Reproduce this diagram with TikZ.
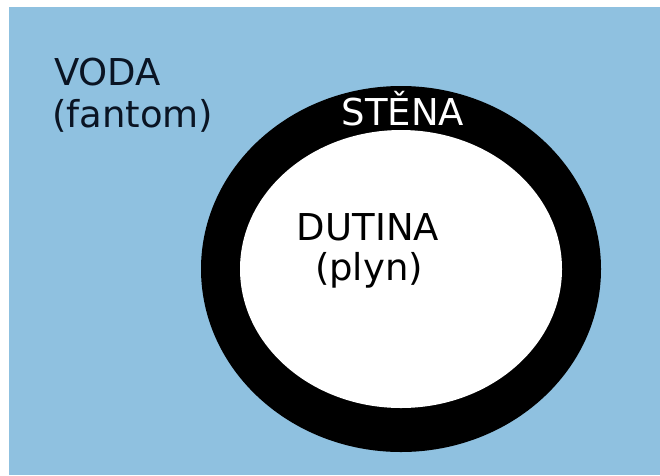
\documentclass[tikz,border=0pt]{standalone}
\usepackage{fontspec}
\setmainfont{DejaVu Sans}
\definecolor{voda}{RGB}{143,193,224}
\definecolor{txt}{RGB}{10,20,35}
\begin{document}
\begin{tikzpicture}[x=1pt,y=-1pt,
  lbl/.style={inner sep=0pt, font=\fontsize{37}{44}\selectfont}]
\useasboundingbox (0,0) rectangle (660,475);
\fill[white] (0,0) rectangle (660,475);
\fill[voda] (9,7) rectangle (660,475);
\fill[black] (401,269) ellipse [x radius=200, y radius=183];
\fill[white] (401,269) ellipse [x radius=161, y radius=139];
\node[lbl, anchor=base west, text=txt] (voda) at (54,85) {VODA};
\node[lbl, anchor=base west, text=txt] (fantom) at (52,127) {(fantom)};
\node[lbl, anchor=base, text=white] (stena) at (403,125) {STĚNA};
\node[lbl, anchor=base, text=black] (dutina) at (368,240) {DUTINA};
\node[lbl, anchor=base, text=black] (plyn) at (369,280) {(plyn)};
\end{tikzpicture}
\end{document}
